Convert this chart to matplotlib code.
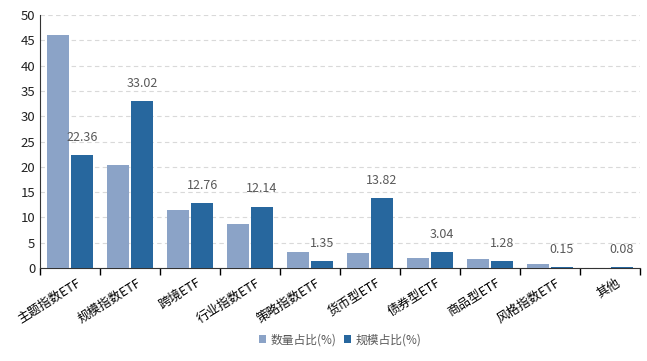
import matplotlib
matplotlib.use("Agg")
import matplotlib.pyplot as plt
import numpy as np

plt.rcParams['font.family'] = ['Noto Sans CJK SC', 'DejaVu Sans']

categories = ['主题指数ETF', '规模指数ETF', '跨境ETF', '行业指数ETF', '策略指数ETF',
              '货币型ETF', '债券型ETF', '商品型ETF', '风格指数ETF', '其他']
count_share = [46.0, 20.4, 11.5, 8.7, 3.2, 2.9, 2.0, 1.8, 0.8, 0.0]
scale_share = [22.36, 33.02, 12.76, 12.14, 1.35, 13.82, 3.04, 1.28, 0.15, 0.08]

light = '#8BA3C7'
dark = '#27679E'

fig = plt.figure(figsize=(6.47, 3.61), dpi=100)
ax = fig.add_axes([0.062, 0.258, 0.927, 0.70])

x = np.arange(len(categories))
w = 0.37
ax.bar(x - 0.2, count_share, width=w, color=light, label='数量占比(%)', zorder=3)
ax.bar(x + 0.2, scale_share, width=w, color=dark, label='规模占比(%)', zorder=3)

for xi, v in zip(x, scale_share):
    ax.annotate(f'{v:.2f}', (xi + 0.2, v), xytext=(0, 8), textcoords='offset points',
                ha='center', va='bottom', fontsize=9, color='#595959')

ax.set_ylim(0, 50)
ax.set_yticks(np.arange(0, 51, 5))
ax.set_xlim(-0.5, len(categories) - 0.5)
ax.yaxis.grid(True, linestyle=(0, (4, 3)), color='#d9d9d9', linewidth=0.8, zorder=0)

ax.set_xticks(x + 0.1)
ax.set_xticklabels(categories, rotation=32, ha='right', rotation_mode='anchor', fontsize=9)
ax.set_xticks(np.arange(-0.5, len(categories)), minor=True)
ax.tick_params(axis='x', which='major', length=0, pad=6)
ax.tick_params(axis='x', which='minor', length=5, width=1, direction='out')
ax.tick_params(axis='y', length=0, labelsize=9.5, labelcolor='#222222')

for s in ['top', 'right']:
    ax.spines[s].set_visible(False)
ax.spines['left'].set_color('#333333')
ax.spines['bottom'].set_color('#333333')

ax.legend(loc='center', bbox_to_anchor=(0.5, -0.285), ncol=2, frameon=False,
          fontsize=8.5, handlelength=0.6, handleheight=0.6, handletextpad=0.4,
          columnspacing=0.6, labelcolor='#595959')

fig.savefig('out.png', dpi=100)
